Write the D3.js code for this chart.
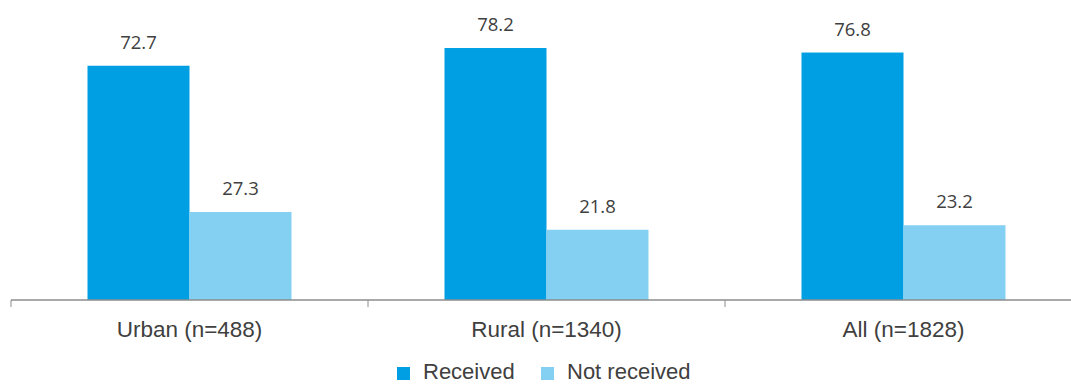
<!DOCTYPE html>
<html>
<head>
<meta charset="utf-8">
<script src="https://cdn.jsdelivr.net/npm/d3@7"></script>
<style>
  html, body { margin: 0; padding: 0; background: #fff; }
  svg { display: block; }
</style>
</head>
<body>
<svg id="chart" width="1071" height="384"></svg>
<script>
// Share of respondents by area
const categories = ["Urban (n=488)", "Rural (n=1340)", "All (n=1828)"];
const seriesNames = ["Received", "Not received"];
const received = [72.7, 78.2, 76.8];
const notReceived = [27.3, 21.8, 23.2];
const colors = ["#009fe3", "#83d0f2"];

const svg = d3.select("#chart");
const baseY = 300;

const x = d3.scaleBand()
  .domain(categories)
  .range([11, 1082])
  .paddingInner(0)
  .paddingOuter(0);

const inner = d3.scaleBand()
  .domain(seriesNames)
  .range([0, x.bandwidth()])
  .paddingOuter(0.75)
  .paddingInner(0);

const y = d3.scaleLinear().domain([0, 90]).range([baseY, 10]);

const rows = categories.map((c, i) => ({
  cat: c,
  vals: [
    { name: seriesNames[0], v: received[i], color: colors[0] },
    { name: seriesNames[1], v: notReceived[i], color: colors[1] }
  ]
}));

const groups = svg.selectAll("g.cat")
  .data(rows)
  .join("g")
  .attr("class", "cat")
  .attr("transform", d => `translate(${x(d.cat)},0)`);

groups.selectAll("rect")
  .data(d => d.vals)
  .join("rect")
  .attr("x", d => inner(d.name))
  .attr("y", d => y(d.v))
  .attr("width", inner.bandwidth())
  .attr("height", d => baseY - y(d.v))
  .attr("fill", d => d.color);

groups.selectAll("text.val")
  .data(d => d.vals)
  .join("text")
  .attr("class", "val")
  .attr("x", d => inner(d.name) + inner.bandwidth() / 2)
  .attr("y", d => y(d.v) - 17)
  .attr("text-anchor", "middle")
  .attr("font-family", "'Open Sans', 'Noto Sans', sans-serif")
  .attr("font-size", 18.5)
  .attr("fill", "#404040")
  .text(d => d.v.toFixed(1));

// Category axis
const axis = d3.axisBottom(x).tickSize(0).tickPadding(0);
const gx = svg.append("g").attr("transform", `translate(0,${baseY})`).call(axis);
gx.select(".domain").attr("stroke", "#8c8c8c").attr("stroke-width", 1.5)
  .attr("d", `M11,0H1071`);
gx.selectAll(".tick text")
  .attr("y", 37)
  .attr("dy", 0)
  .attr("font-family", "'Liberation Sans', Arial, sans-serif")
  .attr("font-size", 22.5)
  .attr("fill", "#404040");

// Boundary ticks between categories
const bounds = [11, ...categories.map(c => x(c) + x.bandwidth())];
svg.append("g").selectAll("line")
  .data(bounds.filter(b => b < 1071))
  .join("line")
  .attr("x1", d => d).attr("x2", d => d)
  .attr("y1", baseY).attr("y2", baseY + 7)
  .attr("stroke", "#8c8c8c").attr("stroke-width", 1);

// Legend
const legendX = [397, 541];
const legend = svg.append("g");
seriesNames.forEach((name, i) => {
  legend.append("rect")
    .attr("x", legendX[i]).attr("y", 367)
    .attr("width", 13).attr("height", 13)
    .attr("fill", colors[i]);
  legend.append("text")
    .attr("x", legendX[i] + 26).attr("y", 379)
    .attr("font-family", "'Liberation Sans', Arial, sans-serif")
    .attr("font-size", 22)
    .attr("fill", "#404040")
    .text(name);
});
</script>
</body>
</html>
